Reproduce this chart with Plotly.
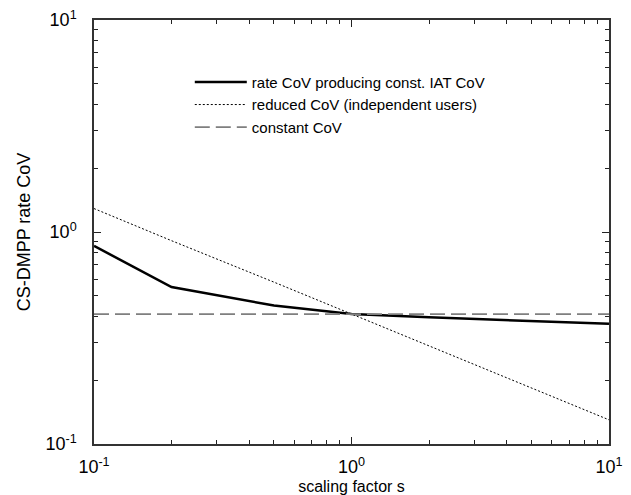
import plotly.graph_objects as go

# scaling factor s
s_values = [0.1, 0.2, 0.5, 1, 2, 5, 10]
# rate CoV producing const. IAT CoV
rate_cov = [0.86, 0.55, 0.45, 0.41, 0.396, 0.379, 0.369]
# reduced CoV (independent users)
reduced_cov = [1.29, 0.91, 0.58, 0.41, 0.29, 0.183, 0.13]
# constant CoV
constant_cov = [0.41, 0.41, 0.41, 0.41, 0.41, 0.41, 0.41]

series_names = ["rate CoV producing const. IAT CoV",
                "reduced CoV (independent users)",
                "constant CoV"]

tick_vals = [0.1, 1, 10]
tick_text = ["10<sup>-1</sup>", "10<sup>0</sup>", "10<sup>1</sup>"]

FONT = "Liberation Sans, Arial, sans-serif"

fig = go.Figure()
fig.add_trace(go.Scatter(x=s_values, y=rate_cov, mode="lines", name=series_names[0],
                         line=dict(color="black", width=2.5)))
fig.add_trace(go.Scatter(x=s_values, y=reduced_cov, mode="lines", name=series_names[1],
                         line=dict(color="black", width=1, dash="2px,2px")))
fig.add_trace(go.Scatter(x=s_values, y=constant_cov, mode="lines", name=series_names[2],
                         line=dict(color="#7f7f7f", width=1.8, dash="15px,6px")))

axis_common = dict(
    type="log",
    automargin=False,
    showgrid=False,
    zeroline=False,
    showline=True,
    linecolor="#333",
    linewidth=1.5,
    mirror="allticks",
    ticks="inside",
    ticklen=7,
    tickwidth=1.2,
    tickcolor="#222",
    tickmode="array",
    tickvals=tick_vals,
    ticktext=tick_text,
    tickfont=dict(family=FONT, size=18, color="black"),
    minor=dict(ticks="inside", ticklen=4, tickwidth=1, tickcolor="#222",
               dtick="D1", showgrid=False),
)

fig.update_xaxes(**axis_common, range=[-1, 1], ticklabelstandoff=6,
                 title=dict(text="scaling factor s", font=dict(family=FONT, size=16, color="black"),
                            standoff=9))
fig.update_yaxes(**axis_common, range=[-1, 1], ticklabelstandoff=12,
                 title=dict(text="CS-DMPP rate CoV", font=dict(family=FONT, size=18, color="black"),
                            standoff=10))

fig.update_layout(
    width=631, height=495,
    margin=dict(l=94, r=22, t=20, b=51, autoexpand=False),
    paper_bgcolor="white",
    plot_bgcolor="white",
    font=dict(family=FONT, color="black"),
    legend=dict(x=0.186, y=0.892, xanchor="left", yanchor="top",
                bgcolor="rgba(0,0,0,0)", borderwidth=0,
                font=dict(family=FONT, size=15, color="black"),
                itemwidth=52, tracegroupgap=0),
)

fig.write_html("out.html")
